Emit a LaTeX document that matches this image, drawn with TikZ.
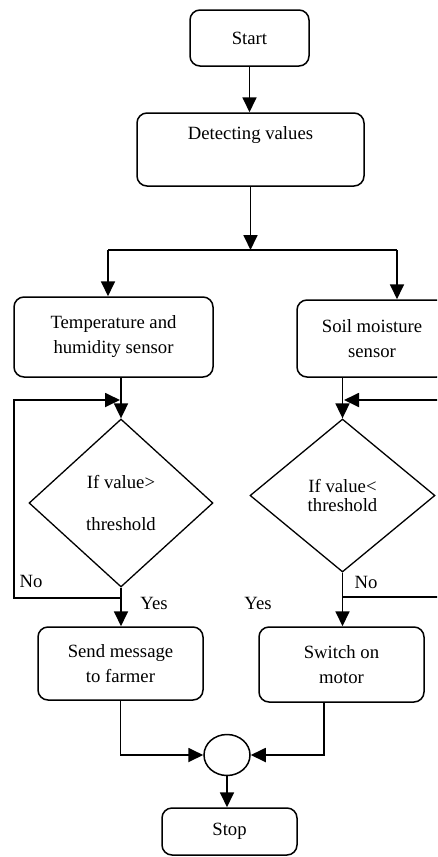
\documentclass[tikz,border=0pt]{standalone}
\usepackage{fontspec}
\setmainfont{Liberation Serif}
\usetikzlibrary{shapes.geometric,arrows.meta}
\begin{document}
\begin{tikzpicture}[x=1pt,y=-1pt,
  every node/.style={font=\fontsize{18.7}{25}\selectfont},
  box/.style={draw, line width=1.5pt, rounded corners=10pt, align=center, inner sep=0pt},
  dia/.style={draw, diamond, line width=1.3pt, align=center, inner sep=0pt},
  arr/.style={line width=1.8pt, -{Triangle[length=15pt,width=14pt]}},
  ln/.style={line width=1.8pt},
  lbl/.style={inner sep=0pt}]
\fill[white] (0,0) rectangle (437,857);
\useasboundingbox (0,0) rectangle (437,857);
\begin{scope}
\clip (0,0) rectangle (437,857);
% nodes
\node[box, minimum width=119pt, minimum height=56pt] (start) at (249.5,38) {Start};
\node[box, minimum width=227pt, minimum height=73pt] (detect) at (250.5,149.5) {Detecting values\\\strut};
\node[box, minimum width=199pt, minimum height=80pt] (temp) at (113.5,337) {Temperature and\\humidity sensor};
\node[box, minimum width=150pt, minimum height=77pt] (soil) at (372,338.5) {Soil moisture\\sensor};
\node[dia, minimum width=184pt, minimum height=168pt] (d1) at (121,503) {If value>\\[18pt]threshold};
\node[dia, minimum width=185pt, minimum height=153pt] (d2) at (342.5,495.5) {If value<\\[-7pt]threshold};
\node[box, minimum width=165pt, minimum height=73pt] (send) at (120.5,663.5) {Send message\\to farmer};
\node[box, minimum width=165pt, minimum height=75pt] (switch) at (341.5,664.5) {Switch on\\motor};
\node[draw, ellipse, line width=1.5pt, minimum width=46pt, minimum height=41pt, inner sep=0pt] (circ) at (227,755) {};
\node[box, minimum width=135pt, minimum height=47pt] (stop) at (229.5,831.5) {Stop};
% labels
\node[lbl] (no1) at (31,581) {No};
\node[lbl] (yes1) at (154,603) {Yes};
\node[lbl] (yes2) at (258,603) {Yes};
\node[lbl] (no2) at (366,582) {No};
% coordinates
\coordinate (br) at (250,250);
\coordinate (brL) at (108,250);
\coordinate (brR) at (397,250);
\coordinate (lpb) at (14,598);
\coordinate (lpt) at (120,400);
\coordinate (rpb) at (455,597);
\coordinate (rpt) at (344,400);
% connectors
\draw[arr] (start.south) -- (start.south |- detect.north);
\draw[arr] (detect.south |- detect.south) -- (detect.south |- br);
\draw[ln] (brL) -- (brR);
\draw[arr] (brL) -- (brL |- temp.north);
\draw[arr] (brR) -- (brR |- soil.north);
\draw[arr] (d1.north |- temp.south) -- (d1.north);
\draw[arr] (d2.north |- soil.south) -- (d2.north);
\draw[arr] (d1.south) |- (lpb) |- (lpt);
\draw[arr] (d2.south) |- (rpb) |- (rpt);
\draw[arr] (d1.south) -- (d1.south |- send.north);
\draw[arr] (d2.south) -- (d2.south |- switch.north);
\draw[arr] (send.south) |- (circ.west);
\draw[arr] ([xshift=-17.5pt]switch.south) |- (circ.east);
\draw[arr] (circ.south) -- (circ.south |- stop.north);
\end{scope}
\end{tikzpicture}
\end{document}
